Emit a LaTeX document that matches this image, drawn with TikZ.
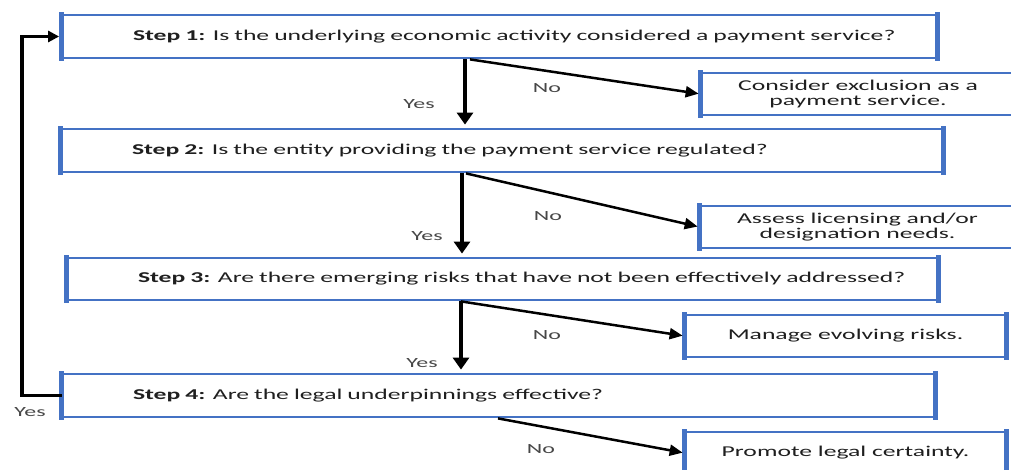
\documentclass[tikz,border=0pt]{standalone}
\usepackage{fontspec}
\setmainfont{Carlito}[FakeStretch=1.71]
\usetikzlibrary{arrows.meta,calc}
\definecolor{bbox}{HTML}{4472C4}
\definecolor{txt}{HTML}{1F1F1F}
\definecolor{lbl}{HTML}{474747}
\hbadness=10000 \hfuzz=1000pt
\begin{document}
\begin{tikzpicture}[x=1pt,y=-1pt,
  stepbox/.style={draw=bbox, line width=2.8pt, fill=white, inner ysep=0pt, inner xsep=70pt, align=left, font=\fontsize{15}{18}\selectfont, text=txt, minimum height=43pt},
  outbox/.style={draw=bbox, line width=2.8pt, fill=white, align=center, font=\fontsize{15}{15}\selectfont, text=txt, inner sep=0pt},
  sidebar/.style={draw=bbox, line width=5pt, shorten <=-1.4pt, shorten >=-1.4pt},
  yesarrow/.style={line width=4pt, -{Triangle[length=12pt,width=16pt]}},
  noarrow/.style={line width=2.5pt, -{Triangle[length=13pt,width=11pt]}},
  looparrow/.style={line width=3.5pt, line join=miter, -{Triangle[length=11pt,width=11pt]}},
  lab/.style={font=\fontsize{14}{14}\selectfont, text=lbl}
]
\clip (0,0) rectangle (1011,470);
\fill[white] (0,0) rectangle (1011,470);

% step boxes
\node[stepbox, text width=733pt, minimum height=43pt] (s1) at (499.5,36.5) {\mbox{\textbf{Step 1:} Is the underlying economic activity considered a payment service?}};
\node[stepbox, text width=740pt, minimum height=43pt] (s2) at (502,150.5) {\mbox{\textbf{Step 2:} Is the entity providing the payment service regulated?}};
\node[stepbox, text width=729pt, minimum height=42pt] (s3) at (502.5,279) {\mbox{\textbf{Step 3:} Are there emerging risks that have not been effectively addressed?}};
\node[stepbox, text width=731pt, minimum height=43pt] (s4) at (498.5,395.5) {\mbox{\textbf{Step 4:} Are the legal underpinnings effective?}};

% outcome boxes
\node[outbox, minimum width=312pt, minimum height=42pt] (c1) at (858,94) {Consider exclusion as a\\payment service.};
\node[outbox, minimum width=313pt, minimum height=42pt] (c2) at (857.5,227) {Assess licensing and/or\\designation needs.};
\node[outbox, minimum width=319pt, minimum height=42pt] (c3) at (845.5,336) {Manage evolving risks.};
\node[outbox, minimum width=319pt, minimum height=42pt] (c4) at (845.5,453) {Promote legal certainty.};

% thicker side edges
\foreach \b in {s1,s2,s3,s4,c1,c2,c3,c4}{
  \draw[sidebar] (\b.north west) -- (\b.south west);
  \draw[sidebar] (\b.north east) -- (\b.south east);
}

% coordinates for connector x positions
\coordinate (d1) at (465,0);
\coordinate (d2) at (462,0);
\coordinate (d3) at (461,0);
\coordinate (n1) at (470,0);
\coordinate (n2) at (466,0);
\coordinate (n3) at (461,0);
\coordinate (n4) at (498,0);
\coordinate (lp) at (22,0);

% yes arrows
\draw[yesarrow, shorten >=3pt] (s1.south -| d1) -- (s2.north -| d1);
\draw[yesarrow, shorten >=3pt] (s2.south -| d2) -- (s3.north -| d2);
\draw[yesarrow, shorten >=3pt] (s3.south -| d3) -- (s4.north -| d3);

% no arrows
\draw[noarrow, shorten >=2pt] (s1.south -| n1) -- (c1.west);
\draw[noarrow, shorten >=2pt] (s2.south -| n2) -- (c2.west);
\draw[noarrow, shorten >=2pt] (s3.south -| n3) -- (c3.west);
\draw[noarrow, shorten >=2pt] (s4.south -| n4) -- (c4.west);

% loop back
\draw[looparrow, shorten >=2.5pt] (s4.west) -- (s4.west -| lp) -- (s1.west -| lp) -- (s1.west);

% labels
\node[lab] (y1) at (419,104) {Yes};
\node[lab] (y2) at (427,236) {Yes};
\node[lab] (y3) at (422,363) {Yes};
\node[lab] (y4) at (30,412) {Yes};
\node[lab] (no1) at (547,88) {No};
\node[lab] (no2) at (548,216) {No};
\node[lab] (no3) at (547,335) {No};
\node[lab] (no4) at (541,449) {No};
\end{tikzpicture}
\end{document}
